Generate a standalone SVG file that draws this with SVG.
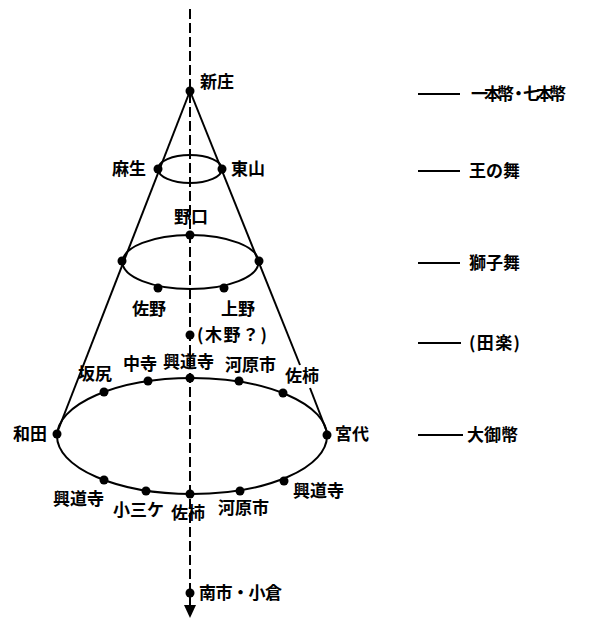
<svg xmlns="http://www.w3.org/2000/svg" width="593" height="621" viewBox="0 0 593 621">
<style>
.ln{stroke:#000;stroke-width:2;fill:none}
.dot{fill:#000}
text{font-family:"Noto Sans CJK JP","Noto Sans CJK SC",sans-serif;font-size:17px;font-weight:700;fill:#000}
</style>
<g id="connectors">
<line class="ln" x1="190" y1="9" x2="190" y2="606" stroke-dasharray="10,4"/>
<path d="M184,605 L196,605 L190,618 Z" fill="#000"/>
<line class="ln" x1="190" y1="91" x2="57" y2="433"/>
<line class="ln" x1="190" y1="91" x2="300" y2="365"/>
<line class="ln" x1="310" y1="388" x2="327" y2="432"/>
<ellipse class="ln" cx="190" cy="169" rx="32" ry="14"/>
<ellipse class="ln" cx="190.5" cy="262" rx="68" ry="27"/>
<ellipse class="ln" cx="192" cy="436" rx="135" ry="58"/>
<line class="ln" x1="418" y1="94" x2="460" y2="94"/>
<line class="ln" x1="418" y1="171" x2="460" y2="171"/>
<line class="ln" x1="418" y1="263" x2="460" y2="263"/>
<line class="ln" x1="418" y1="343" x2="461" y2="343"/>
<line class="ln" x1="418" y1="435" x2="463" y2="435"/>
</g>
<g id="n-shinjo"><circle class="dot" cx="190" cy="91" r="4.5"/><text x="200" y="88">新庄</text></g>
<g id="n-aso"><circle class="dot" cx="158" cy="169" r="4.5"/><text x="112" y="175">麻生</text></g>
<g id="n-higashiyama"><circle class="dot" cx="222" cy="169" r="4.5"/><text x="231" y="175">東山</text></g>
<g id="n-noguchi"><circle class="dot" cx="190" cy="235" r="4.5"/><text x="174" y="223">野口</text></g>
<g id="n-mid-left"><circle class="dot" cx="122" cy="261" r="4.5"/></g>
<g id="n-mid-right"><circle class="dot" cx="259" cy="261" r="4.5"/></g>
<g id="n-sano"><circle class="dot" cx="158" cy="288" r="4.5"/><text x="132" y="315">佐野</text></g>
<g id="n-ueno"><circle class="dot" cx="224" cy="288" r="4.5"/><text x="221" y="315">上野</text></g>
<g id="n-kino"><circle class="dot" cx="190" cy="335" r="4.5"/><text x="197" y="341" textLength="70">(木野？)</text></g>
<g id="n-nakadera"><circle class="dot" cx="148" cy="381" r="4.5"/><text x="123" y="370">中寺</text></g>
<g id="n-kodoji-top"><circle class="dot" cx="190" cy="378" r="4.5"/><text x="163" y="368">興道寺</text></g>
<g id="n-kawarai-top"><circle class="dot" cx="239" cy="381" r="4.5"/><text x="225" y="371">河原市</text></g>
<g id="n-sakajiri"><circle class="dot" cx="104" cy="392" r="4.5"/><text x="78" y="380">坂尻</text></g>
<g id="n-sagaki-r"><circle class="dot" cx="283" cy="393" r="4.5"/><text x="285" y="382">佐柿</text></g>
<g id="n-wada"><circle class="dot" cx="57" cy="434" r="4.5"/><text x="13" y="440">和田</text></g>
<g id="n-miyashiro"><circle class="dot" cx="327" cy="435" r="4.5"/><text x="335" y="440">宮代</text></g>
<g id="n-kodoji-bl"><circle class="dot" cx="104" cy="480" r="4.5"/><text x="53" y="505">興道寺</text></g>
<g id="n-komike"><circle class="dot" cx="146" cy="491" r="4.5"/><text x="113" y="516">小三ケ</text></g>
<g id="n-sagaki-b"><circle class="dot" cx="190" cy="494" r="4.5"/><text x="171" y="519">佐柿</text></g>
<g id="n-kawarai-b"><circle class="dot" cx="240" cy="491" r="4.5"/><text x="218" y="514">河原市</text></g>
<g id="n-kodoji-br"><circle class="dot" cx="284" cy="481" r="4.5"/><text x="293" y="497">興道寺</text></g>
<g id="n-minamiichi"><circle class="dot" cx="190" cy="593" r="4.5"/><text x="199" y="599" textLength="83">南市・小倉</text></g>
<g id="legend">
<text x="471" y="100" textLength="95">一本幣・七本幣</text>
<text x="469" y="177">王の舞</text>
<text x="469" y="269">獅子舞</text>
<text x="469" y="349" textLength="51">(田楽)</text>
<text x="467" y="441">大御幣</text>
</g>
</svg>
